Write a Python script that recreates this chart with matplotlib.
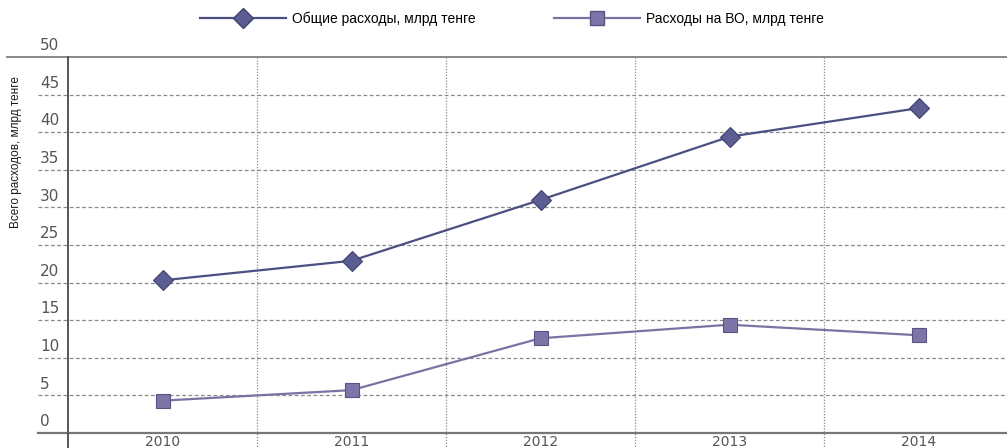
import matplotlib
matplotlib.use('Agg')
import matplotlib.pyplot as plt
import matplotlib.transforms as mtransforms
from matplotlib.lines import Line2D

# данные
years = ['2010', '2011', '2012', '2013', '2014']
total_spend = [20.3, 22.9, 31.0, 39.4, 43.2]
higher_ed_spend = [4.3, 5.7, 12.6, 14.4, 13.0]
y_ticks = [0, 5, 10, 15, 20, 25, 30, 35, 40, 45, 50]

label_total = 'Общие расходы, млрд тенге'
label_he = 'Расходы на ВО, млрд тенге'
ylabel = 'Всего расходов, млрд тенге'

c_total = '#4b4f82'
c_total_m = '#5c5e92'
c_he = '#7b72a4'
c_he_m = '#7e74a8'
grid_c = '#8a8a8a'
tick_c = '#555555'

W, H = 1007, 448
fig = plt.figure(figsize=(W / 100, H / 100), dpi=100)
ax = fig.add_axes([68 / W, 15 / H, 945 / W, 376 / H])

x = list(range(len(years)))
ax.plot(x, total_spend, color=c_total, lw=1.6, marker='D', ms=10,
        mfc=c_total_m, mec='#3e416e', mew=0.8, zorder=5)
ax.plot(x, higher_ed_spend, color=c_he, lw=1.6, marker='s', ms=10,
        mfc=c_he_m, mec='#5a5384', mew=0.8, zorder=5)

ax.set_xlim(-0.5, 4.5)
ax.set_ylim(0, 50)
for s in ax.spines.values():
    s.set_visible(False)
ax.set_xticks([])
ax.set_yticks([])

# горизонтальная сетка, выходящая влево за ось
px = lambda p: p / 945
for v in y_ticks:
    if v == 0:
        ax.axhline(v, xmin=px(38 - 68), xmax=1, color='#777777', lw=1.6,
                   clip_on=False, zorder=3)
    elif v == 50:
        ax.axhline(v, xmin=px(7 - 68), xmax=1, color='#888888', lw=1.4,
                   clip_on=False, zorder=3)
    else:
        ax.axhline(v, xmin=px(38 - 68), xmax=1, color=grid_c, lw=0.9,
                   ls=(0, (3, 2)), clip_on=False, zorder=1)

# вертикальная сетка между категориями
for b in [0.5, 1.5, 2.5, 3.5]:
    ax.plot([b, b], [50, -2], color=grid_c, lw=0.9, ls=(0, (1, 1.3)),
            clip_on=False, zorder=1)
ax.plot([-0.5, -0.5], [50, -2], color='#555555', lw=1.4, clip_on=False,
        zorder=4)

# подписи оси y над линиями
trans = mtransforms.blended_transform_factory(fig.transFigure, ax.transData)
for v in y_ticks:
    ax.text(40 / W, v + 0.5, str(v), transform=trans, ha='left', va='bottom',
            fontsize=11, color=tick_c, family='DejaVu Sans')

# подписи годов
for i, yr in enumerate(years):
    ax.text(i, -0.2, yr, ha='center', va='top', fontsize=10, color=tick_c,
            family='DejaVu Sans', clip_on=False)

fig.text(16 / W, 1 - 152 / H, ylabel, rotation=90, ha='center', va='center',
         fontsize=8.5, color='#1a1a1a', fontstretch='condensed',
         family=['Liberation Sans Narrow', 'Liberation Sans', 'DejaVu Sans'])

# легенда
h1 = Line2D([], [], color=c_total, lw=1.6, marker='D', ms=10,
            mfc=c_total_m, mec='#3e416e')
h2 = Line2D([], [], color=c_he, lw=1.6, marker='s', ms=10,
            mfc=c_he_m, mec='#5a5384')
fig.legend([h1, h2], [label_total, label_he], loc='center',
           bbox_to_anchor=(512 / W, 1 - 19 / H), ncol=2, frameon=False,
           handlelength=6.2, columnspacing=5.6, handletextpad=0.45,
           prop={'family': ['Liberation Sans', 'DejaVu Sans'], 'size': 10})

fig.savefig('out.png', dpi=100)
